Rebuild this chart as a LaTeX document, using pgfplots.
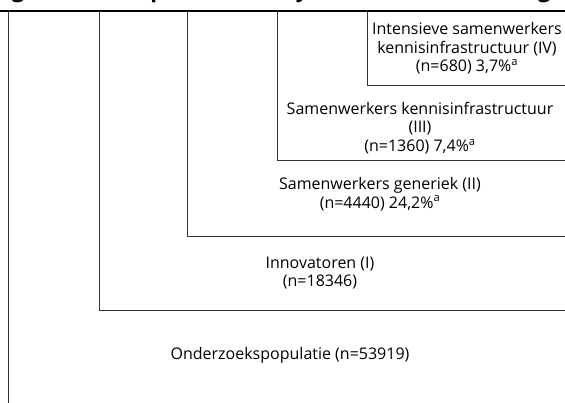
\documentclass[border=0pt]{standalone}
\usepackage{pgfplots}
\pgfplotsset{compat=1.18}
\usepackage{fontspec}
\setmainfont{Open Sans}
\begin{document}
\begin{tikzpicture}
\begin{axis}[name=ax, scale only axis, width=565pt, height=403pt,
  xmin=0, xmax=565, ymin=0, ymax=403, y dir=reverse, hide axis, clip=false]
% top rule
\addplot[black, line width=2.6pt] coordinates {(0,11) (565,11)};
% nested boxes
\addplot[black!80, line width=0.9pt] coordinates {(8,11) (8,403)};
\addplot[black!80, line width=0.9pt] coordinates {(99.5,11) (99.5,310) (565,310)};
\addplot[black!80, line width=0.9pt] coordinates {(187.5,11) (187.5,236) (565,236)};
\addplot[black!80, line width=0.9pt] coordinates {(277.5,11) (277.5,160) (565,160)};
\addplot[black!80, line width=0.9pt] coordinates {(367.5,11) (367.5,85) (565,85)};
% labels
\tikzset{lbl/.style={font=\fontsize{16}{18.5}\selectfont, align=center, inner sep=0pt, text=black}}
\node[lbl] at (axis cs:467,48.5) {Intensieve samenwerkers\\kennisinfrastructuur (IV)\\(n=680) 3,7\%\textsuperscript{a}};
\node[lbl] at (axis cs:420,128) {Samenwerkers kennisinfrastructuur\\(III)\\(n=1360) 7,4\%\textsuperscript{a}};
\node[lbl] at (axis cs:380,194) {Samenwerkers generiek (II)\\(n=4440) 24,2\%\textsuperscript{a}};
\node[lbl] at (axis cs:320,273) {Innovatoren (I)\\(n=18346)};
\node[lbl] at (axis cs:290,355) {Onderzoekspopulatie (n=53919)};
% cut-off title (only its descenders show, as in the reference)
\tikzset{ttl/.style={font=\fontsize{22}{24}\bfseries\selectfont, anchor=base west, inner sep=0pt}}
\node[ttl] at (axis cs:-7,-2) {Figuur};
\node[ttl] at (axis cs:98,-2) {Groepen};
\node[ttl] at (axis cs:248,-2) {analyse};
\node[ttl] at (axis cs:388,-2) {samenwerking};
\end{axis}
\pgfresetboundingbox
\useasboundingbox (ax.south west) rectangle (ax.north east);
\end{tikzpicture}
\end{document}
